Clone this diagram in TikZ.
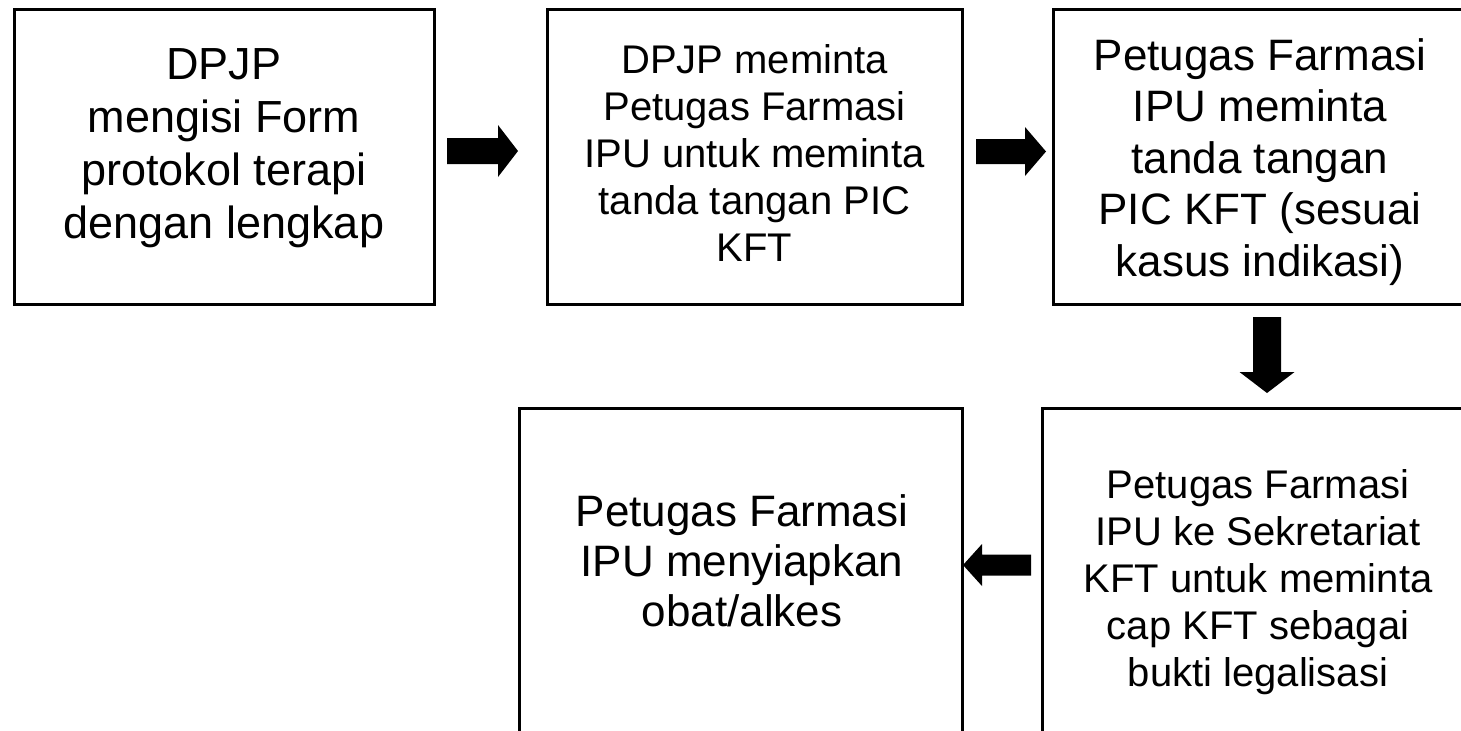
\documentclass[tikz,border=0pt]{standalone}
\usepackage{fontspec}
\setmainfont{Liberation Sans}
\begin{document}
\begin{tikzpicture}[x=0.5pt,y=-0.5pt,
  box/.style={draw=black,line width=1.5pt,fill=none,inner sep=0pt},
  txt/.style={align=center,inner sep=0pt,text=black},
  big/.style={font=\fontsize{22.5}{26.5}\selectfont},
  mid/.style={font=\fontsize{20}{23.5}\selectfont},
  blockarrow/.style={fill=black,draw=none}]
\useasboundingbox (0,0) rectangle (1461,730);
\clip (0,0) rectangle (1461,730);
% boxes
\node[box,minimum width=210pt,minimum height=147.5pt] (b1) at (224,156.5) {};
\node[box,minimum width=207.5pt,minimum height=147.5pt] (b2) at (754.5,156.5) {};
\node[box,minimum width=247pt,minimum height=147.5pt] (b3) at (1300,156.5) {};
\node[box,minimum width=221.5pt,minimum height=168.5pt] (b4) at (740.5,576.5) {};
\node[box,minimum width=258pt,minimum height=168.5pt] (b5) at (1300,576.5) {};
% texts
\node[txt,big] (t1) at (224,148) {DPJP\\mengisi Form\\protokol terapi\\dengan lengkap};
\node[txt,mid] (t2) at (754.5,153) {DPJP meminta\\Petugas Farmasi\\IPU untuk meminta\\tanda tangan PIC\\KFT};
\node[txt,font=\fontsize{22}{25.75}\selectfont] (t3) at (1260,162) {Petugas Farmasi\\IPU meminta\\tanda tangan\\PIC KFT (sesuai\\kasus indikasi)};
\node[txt,font=\fontsize{22}{25}\selectfont] (t4) at (742,561) {Petugas Farmasi\\IPU menyiapkan\\obat/alkes};
\node[txt,mid] (t5) at (1258,582) {Petugas Farmasi\\IPU ke Sekretariat\\KFT untuk meminta\\cap KFT sebagai\\bukti legalisasi};
% block arrows
\coordinate (a1) at (447,151);
\fill[blockarrow] (a1) ++(0,-13) -- ++(51,0) -- ++(0,-13) -- ++(20,26) -- ++(-20,26) -- ++(0,-13) -- ++(-51,0) -- cycle;
\coordinate (a2) at (976,151.5);
\fill[blockarrow] (a2) ++(0,-12.5) -- ++(49,0) -- ++(0,-12) -- ++(21,24.5) -- ++(-21,24.5) -- ++(0,-12) -- ++(-49,0) -- cycle;
\coordinate (a3) at (1267,317);
\fill[blockarrow] (a3) ++(-14,0) -- ++(0,55) -- ++(-13.5,0) -- ++(27.5,21) -- ++(27.5,-21) -- ++(-13.5,0) -- ++(0,-55) -- cycle;
\coordinate (a4) at (1031,565);
\fill[blockarrow] (a4) ++(0,-10.5) -- ++(-49,0) -- ++(0,-10.5) -- ++(-19,21) -- ++(19,21) -- ++(0,-10.5) -- ++(49,0) -- cycle;
\end{tikzpicture}
\end{document}
